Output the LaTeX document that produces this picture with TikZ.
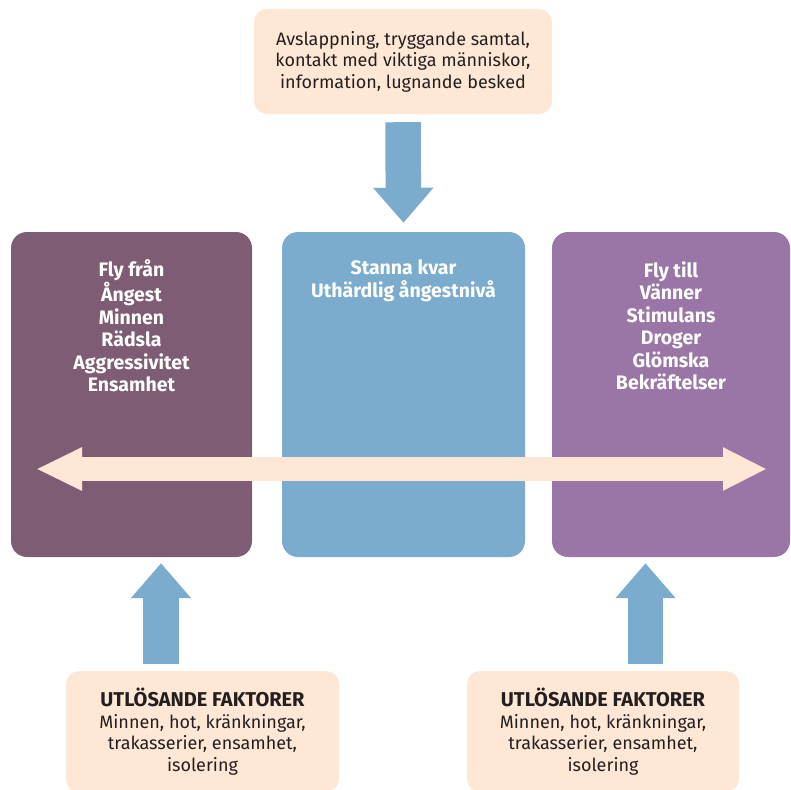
\documentclass[tikz,border=0pt]{standalone}
\usepackage{fontspec}
\setmainfont{Fira Sans}
\usetikzlibrary{arrows.meta,positioning}

\definecolor{flyfran}{HTML}{7E5D74}
\definecolor{stanna}{HTML}{7BACCD}
\definecolor{flytill}{HTML}{9A76A6}
\definecolor{peach}{HTML}{FEE8D5}
\definecolor{textdark}{HTML}{231F20}

\newcommand{\faktorer}{{\bfseries\fontsize{20}{23}\selectfont UTLÖSANDE FAKTORER}}

\tikzset{
    bigbox/.style={rounded corners=16pt, minimum width=241pt, minimum height=325pt, inner sep=0pt},
    peachbox/.style={fill=peach, rounded corners=13pt, inner sep=0pt, align=center,
        text=textdark, font=\fontsize{18}{21.5}\selectfont},
    boxtext/.style={align=center, text=white, font=\bfseries\fontsize{19.5}{22.5}\selectfont},
    fatarrow/.style={draw=stanna, line width=35.5pt, -{Triangle[length=35pt,width=58pt]}},
    wide/.style={draw=peach, line width=24pt,
        {Triangle[length=46pt,width=40pt]}-{Triangle[length=44pt,width=40pt]}}
}

\begin{document}
\begin{tikzpicture}[x=1pt,y=-1pt]
\useasboundingbox (0,0) rectangle (791,789);

% the three columns
\node[bigbox, fill=flyfran] (fran) at (131.5,394.5) {};
\node[bigbox, fill=stanna, minimum width=243pt] (kvar) at (403.5,394.5) {};
\node[bigbox, fill=flytill, minimum width=238pt] (till) at (671,394.5) {};

\node[boxtext] at (131.5,326) {Fly från\\Ångest\\Minnen\\Rädsla\\Aggressivitet\\Ensamhet};
\node[boxtext] at (403.5,281) {Stanna kvar\\Uthärdlig ångestnivå};
\node[boxtext] at (671,326) {Fly till\\Vänner\\Stimulans\\Droger\\Glömska\\Bekräftelser};

% peach boxes
\node[peachbox, minimum width=298pt, minimum height=105pt] (lugn) at (403,61.5)
    {Avslappning, tryggande samtal,\\kontakt med viktiga människor,\\information, lugnande besked};
\node[peachbox, minimum width=273pt, minimum height=121pt] (trigL) at (202.5,731.5)
    {\faktorer\\Minnen, hot, kränkningar,\\trakasserier, ensamhet,\\isolering};
\node[peachbox, minimum width=272pt, minimum height=121pt] (trigR) at (603,731.5)
    {\faktorer\\Minnen, hot, kränkningar,\\trakasserier, ensamhet,\\isolering};

% arrows
\coordinate (bortL) at (36,469);
\coordinate (bortR) at (767,469);
\draw[wide] (bortL) -- (bortR);
\draw[fatarrow] ([yshift=-8pt]lugn.south) -- ([yshift=9pt]kvar.north);
\draw[fatarrow] ([xshift=-41.5pt,yshift=7pt]trigL.north) -- ([xshift=29.5pt,yshift=-6pt]fran.south);
\draw[fatarrow] ([xshift=42.5pt,yshift=7pt]trigR.north) -- ([xshift=-25.5pt,yshift=-6pt]till.south);
\end{tikzpicture}
\end{document}
